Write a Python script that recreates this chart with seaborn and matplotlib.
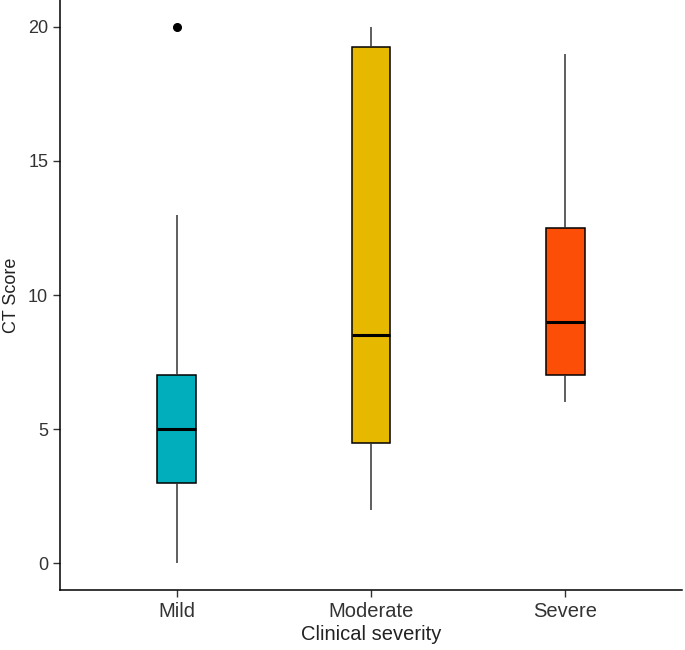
import pandas as pd
import matplotlib
matplotlib.use('Agg')
import matplotlib.pyplot as plt
import seaborn as sns

# box summaries (min whisker, q1, median, q3, max whisker, outliers)
# each group is listed so that seaborn's quartiles land on the read values
categories = ['Mild', 'Moderate', 'Severe']
mild = [0, 3, 3, 5, 5, 7, 7, 13, 20]
moderate = [2, 4.5, 4.5, 8.5, 8.5, 19.25, 19.25, 20, 20]
severe = [6, 7, 7, 9, 9, 12.5, 12.5, 19, 19]
colors = ['#00AFBB', '#E7B800', '#FC4E07']

df = pd.DataFrame({
    'severity': ['Mild'] * len(mild) + ['Moderate'] * len(moderate) + ['Severe'] * len(severe),
    'score': mild + moderate + severe,
})

sns.set_style('ticks')
plt.rcParams['font.family'] = ['Liberation Sans', 'DejaVu Sans']

fig = plt.figure(figsize=(6.85, 6.5), dpi=100)
ax = fig.add_axes([0.0876, 0.0923, 0.908, 0.9077])

sns.boxplot(data=df, x='severity', y='score', hue='severity', order=categories,
            palette=colors, saturation=1, width=0.2, linecolor='black', linewidth=1.1,
            showcaps=False, legend=False, ax=ax,
            whiskerprops=dict(color='#333333', linewidth=1.1),
            medianprops=dict(color='black', linewidth=2.2),
            flierprops=dict(marker='o', markerfacecolor='black', markeredgecolor='black',
                            markersize=5.5))

ax.set_xlim(-0.6, 2.6)
ax.set_ylim(-1, 21)
ax.set_yticks([0, 5, 10, 15, 20])
ax.set_xlabel('Clinical severity', fontsize=14.5, color='#222222', labelpad=3)
ax.set_ylabel('CT Score', fontsize=13, color='#222222', labelpad=6)
ax.tick_params(axis='both', labelsize=13, labelcolor='#333333', length=5, width=1, color='#333333')
ax.tick_params(axis='x', labelsize=14.5)
sns.despine(ax=ax)
for side in ['left', 'bottom']:
    ax.spines[side].set_linewidth(1.1)
    ax.spines[side].set_color('black')

fig.savefig('out.png', dpi=100)
